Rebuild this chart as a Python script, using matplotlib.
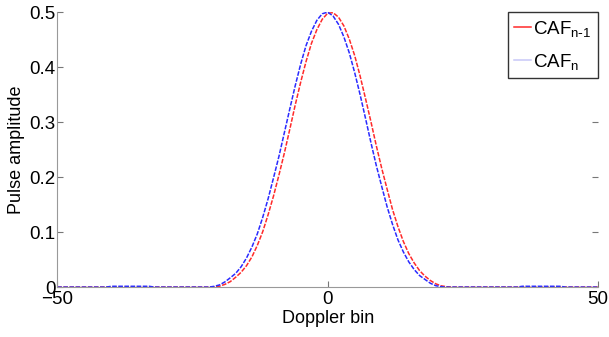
import matplotlib
matplotlib.use("Agg")
import matplotlib.pyplot as plt

plt.rcParams['font.family'] = ['Liberation Sans', 'DejaVu Sans']
plt.rcParams['mathtext.default'] = 'regular'

# CAF_n (blue): Doppler bin -> pulse amplitude
bins_n = [-50, -41, -40, -33, -32,
          -22, -21, -20, -19, -18, -17, -16, -15, -14, -13, -12, -11, -10, -9, -8, -7, -6,
          -5, -4, -3, -2, -1, 0, 1, 2, 3, 4, 5, 6, 7, 8, 9, 10, 11, 12, 13, 14, 15, 16,
          17, 18, 19, 20, 21, 22,
          35, 36, 43, 44, 50]
amp_n = [0.0, 0.0, 0.0015, 0.0015, 0.0,
         0.0, 0.0014, 0.004, 0.0095, 0.017, 0.025, 0.037, 0.053, 0.073, 0.097, 0.127, 0.161, 0.199, 0.238, 0.281, 0.324, 0.366,
         0.405, 0.439, 0.465, 0.485, 0.497, 0.500, 0.493, 0.478, 0.455, 0.426, 0.390, 0.350, 0.307, 0.263, 0.221, 0.183, 0.146, 0.114, 0.086, 0.064, 0.046, 0.032,
         0.021, 0.014, 0.007, 0.0026, 0.0008, 0.0,
         0.0, 0.0015, 0.0015, 0.0, 0.0]

# CAF_{n-1} (red)
bins_n1 = [-50, -22, -21, -20, -19, -18, -17, -16, -15, -14, -13, -12, -11, -10, -9, -8, -7, -6,
           -5, -4, -3, -2, -1, 0, 1, 2, 3, 4, 5, 6, 7, 8, 9, 10, 11, 12, 13, 14, 15, 16,
           17, 18, 19, 20, 21, 22, 23, 50]
amp_n1 = [0.0, 0.0, 0.0004, 0.0017, 0.005, 0.010, 0.018, 0.027, 0.039, 0.055, 0.076, 0.101, 0.132, 0.166, 0.204, 0.244, 0.287, 0.331,
          0.372, 0.410, 0.443, 0.468, 0.487, 0.498, 0.499, 0.491, 0.475, 0.451, 0.421, 0.384, 0.343, 0.301, 0.257, 0.216, 0.178, 0.141, 0.110, 0.083, 0.061, 0.044,
          0.030, 0.020, 0.012, 0.006, 0.0023, 0.0007, 0.0, 0.0]

fig = plt.figure(figsize=(6.09, 3.37), dpi=100)
ax = fig.add_axes([0.094, 0.148, 0.888, 0.816])

ax.plot(bins_n1, amp_n1, color='#ff2a2a', lw=1.1, ls=(0, (3, 1)), label='CAF$_{n\\text{-}1}$')
ax.plot(bins_n, amp_n, color='#2a2aff', lw=1.1, ls=(0, (3, 1)), label='CAF$_{n}$')

ax.set_xlim(-50, 50)
ax.set_ylim(0, 0.5)
ax.set_xticks([-50, 0, 50])
ax.set_yticks([0, 0.1, 0.2, 0.3, 0.4, 0.5])
ax.set_yticklabels(['0', '0.1', '0.2', '0.3', '0.4', '0.5'])
ax.tick_params(direction='in', length=4, labelsize=13.5, right=True, top=False,
               color='#777777')
ax.tick_params(axis='x', pad=3)
ax.tick_params(axis='y', pad=1)
ax.set_xlabel('Doppler bin', fontsize=13, labelpad=1)
ax.set_ylabel('Pulse amplitude', fontsize=13, labelpad=3)

for s in ['left', 'bottom']:
    ax.spines[s].set_color('#999999')
ax.spines['top'].set_visible(False)
ax.spines['right'].set_visible(False)

leg = ax.legend(loc='upper right', fontsize=13.5, handlelength=0.9, handletextpad=0.1,
                borderaxespad=0.0, fancybox=False, framealpha=1, edgecolor='#333333',
                labelspacing=0.7, borderpad=0.35)
leg.get_lines()[0].set_linestyle('-')
leg.get_lines()[1].set_linestyle('-')
leg.get_lines()[1].set_color('#c8c8f8')

fig.savefig('out.png', dpi=100)
